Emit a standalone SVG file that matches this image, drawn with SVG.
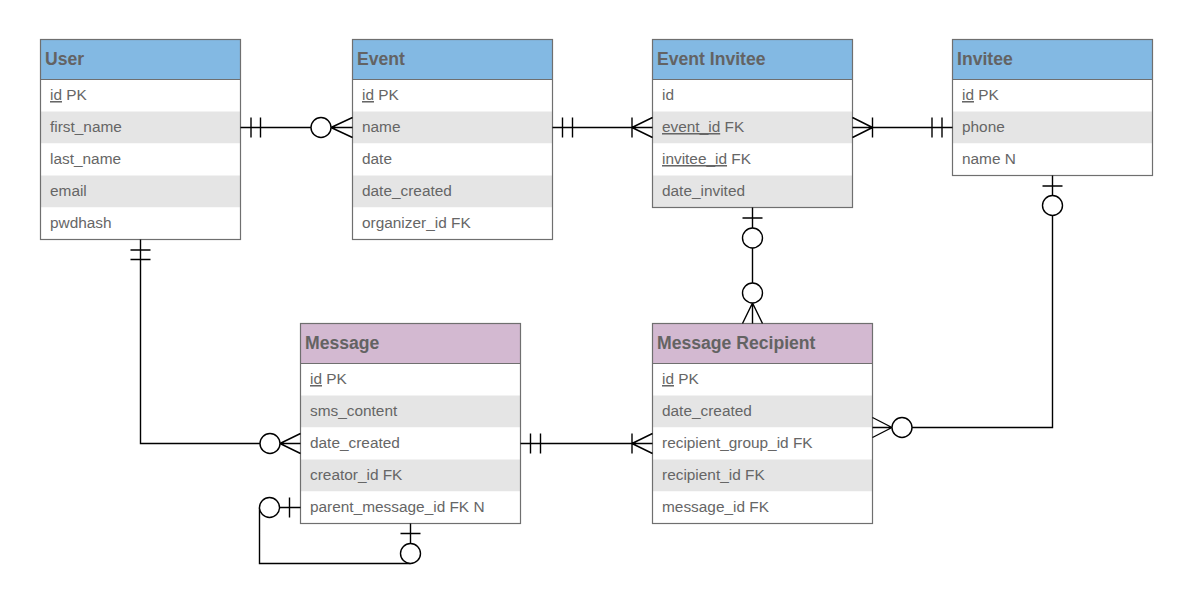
<svg xmlns="http://www.w3.org/2000/svg" width="1192" height="605" viewBox="0 0 1192 605">
<style>
.hb{fill:#83b9e3}
.hp{fill:#d3b9d1}
.rw{fill:#ffffff}
.rg{fill:#e5e5e5}
.bd{fill:none;stroke:#6f6f6f;stroke-width:1.2}
.ht{font-family:"Liberation Sans",Arial,sans-serif;font-size:17.6px;font-weight:bold;fill:#636363}
.tx{font-family:"Liberation Sans",Arial,sans-serif;font-size:15.4px;fill:#666666}
.u{text-decoration:underline}
.c{fill:none;stroke:#000;stroke-width:1.4}
.cc{fill:#fff;stroke:#000;stroke-width:1.4}
</style>
<rect width="1192" height="605" fill="#ffffff"/>

<g id="user">
<rect class="hb" x="40.5" y="39.5" width="200" height="40"/>
<rect class="rw" x="40.5" y="79.5" width="200" height="32"/>
<rect class="rg" x="40.5" y="111.5" width="200" height="32"/>
<rect class="rw" x="40.5" y="143.5" width="200" height="32"/>
<rect class="rg" x="40.5" y="175.5" width="200" height="32"/>
<rect class="rw" x="40.5" y="207.5" width="200" height="32"/>
<rect class="bd" x="40.5" y="39.5" width="200" height="200"/>
<line class="bd" x1="40.5" y1="79.5" x2="240.5" y2="79.5"/>
<text class="ht" x="45" y="65">User</text>
<text class="tx" x="50" y="100"><tspan class="u">id</tspan> PK</text>
<text class="tx" x="50" y="132">first_name</text>
<text class="tx" x="50" y="164">last_name</text>
<text class="tx" x="50" y="196">email</text>
<text class="tx" x="50" y="228">pwdhash</text>
</g>

<g id="event">
<rect class="hb" x="352.5" y="39.5" width="200" height="40"/>
<rect class="rw" x="352.5" y="79.5" width="200" height="32"/>
<rect class="rg" x="352.5" y="111.5" width="200" height="32"/>
<rect class="rw" x="352.5" y="143.5" width="200" height="32"/>
<rect class="rg" x="352.5" y="175.5" width="200" height="32"/>
<rect class="rw" x="352.5" y="207.5" width="200" height="32"/>
<rect class="bd" x="352.5" y="39.5" width="200" height="200"/>
<line class="bd" x1="352.5" y1="79.5" x2="552.5" y2="79.5"/>
<text class="ht" x="357" y="65">Event</text>
<text class="tx" x="362" y="100"><tspan class="u">id</tspan> PK</text>
<text class="tx" x="362" y="132">name</text>
<text class="tx" x="362" y="164">date</text>
<text class="tx" x="362" y="196">date_created</text>
<text class="tx" x="362" y="228">organizer_id FK</text>
</g>

<g id="event-invitee">
<rect class="hb" x="652.5" y="39.5" width="200" height="40"/>
<rect class="rw" x="652.5" y="79.5" width="200" height="32"/>
<rect class="rg" x="652.5" y="111.5" width="200" height="32"/>
<rect class="rw" x="652.5" y="143.5" width="200" height="32"/>
<rect class="rg" x="652.5" y="175.5" width="200" height="32"/>
<rect class="bd" x="652.5" y="39.5" width="200" height="168"/>
<line class="bd" x1="652.5" y1="79.5" x2="852.5" y2="79.5"/>
<text class="ht" x="657" y="65">Event Invitee</text>
<text class="tx" x="662" y="100">id</text>
<text class="tx" x="662" y="132"><tspan class="u">event_id</tspan> FK</text>
<text class="tx" x="662" y="164"><tspan class="u">invitee_id</tspan> FK</text>
<text class="tx" x="662" y="196">date_invited</text>
</g>

<g id="invitee">
<rect class="hb" x="952.5" y="39.5" width="200" height="40"/>
<rect class="rw" x="952.5" y="79.5" width="200" height="32"/>
<rect class="rg" x="952.5" y="111.5" width="200" height="32"/>
<rect class="rw" x="952.5" y="143.5" width="200" height="32"/>
<rect class="bd" x="952.5" y="39.5" width="200" height="136"/>
<line class="bd" x1="952.5" y1="79.5" x2="1152.5" y2="79.5"/>
<text class="ht" x="957" y="65">Invitee</text>
<text class="tx" x="962" y="100"><tspan class="u">id</tspan> PK</text>
<text class="tx" x="962" y="132">phone</text>
<text class="tx" x="962" y="164">name N</text>
</g>

<g id="message">
<rect class="hp" x="300.5" y="323.5" width="220" height="40"/>
<rect class="rw" x="300.5" y="363.5" width="220" height="32"/>
<rect class="rg" x="300.5" y="395.5" width="220" height="32"/>
<rect class="rw" x="300.5" y="427.5" width="220" height="32"/>
<rect class="rg" x="300.5" y="459.5" width="220" height="32"/>
<rect class="rw" x="300.5" y="491.5" width="220" height="32"/>
<rect class="bd" x="300.5" y="323.5" width="220" height="200"/>
<line class="bd" x1="300.5" y1="363.5" x2="520.5" y2="363.5"/>
<text class="ht" x="305" y="349">Message</text>
<text class="tx" x="310" y="384"><tspan class="u">id</tspan> PK</text>
<text class="tx" x="310" y="416">sms_content</text>
<text class="tx" x="310" y="448">date_created</text>
<text class="tx" x="310" y="480">creator_id FK</text>
<text class="tx" x="310" y="512">parent_message_id FK N</text>
</g>

<g id="message-recipient">
<rect class="hp" x="652.5" y="323.5" width="220" height="40"/>
<rect class="rw" x="652.5" y="363.5" width="220" height="32"/>
<rect class="rg" x="652.5" y="395.5" width="220" height="32"/>
<rect class="rw" x="652.5" y="427.5" width="220" height="32"/>
<rect class="rg" x="652.5" y="459.5" width="220" height="32"/>
<rect class="rw" x="652.5" y="491.5" width="220" height="32"/>
<rect class="bd" x="652.5" y="323.5" width="220" height="200"/>
<line class="bd" x1="652.5" y1="363.5" x2="872.5" y2="363.5"/>
<text class="ht" x="657" y="349">Message Recipient</text>
<text class="tx" x="662" y="384"><tspan class="u">id</tspan> PK</text>
<text class="tx" x="662" y="416">date_created</text>
<text class="tx" x="662" y="448">recipient_group_id FK</text>
<text class="tx" x="662" y="480">recipient_id FK</text>
<text class="tx" x="662" y="512">message_id FK</text>
</g>

<g id="connectors">
<!-- User - Event -->
<path class="c" d="M240.5,127.5 H352.5 M251,117.5 V137.5 M260.5,117.5 V137.5 M331,127.5 L352.5,117.5 M331,127.5 L352.5,137.5"/>
<circle class="cc" cx="321" cy="127.5" r="10"/>
<!-- Event - Event Invitee -->
<path class="c" d="M552.5,127.5 H652.5 M562.5,117.5 V137.5 M572.5,117.5 V137.5 M632,117.5 V137.5 M632,127.5 L652.5,117.5 M632,127.5 L652.5,137.5"/>
<!-- Event Invitee - Invitee -->
<path class="c" d="M852.5,127.5 H952.5 M872.5,117.5 V137.5 M852.5,117.5 L872.5,127.5 M852.5,137.5 L872.5,127.5 M932,117.5 V137.5 M942,117.5 V137.5"/>
<!-- Event Invitee - Message Recipient -->
<path class="c" d="M752.5,207.5 V323.5 M742.5,218 H762.5 M752.5,303 L742.5,323.5 M752.5,303 L762.5,323.5"/>
<circle class="cc" cx="752.5" cy="238" r="10"/>
<circle class="cc" cx="752.5" cy="293" r="10"/>
<!-- Invitee - Message Recipient -->
<path class="c" d="M1052.5,175.5 V427.5 H872.5 M1042.5,186 H1062.5 M892,427.5 L872.5,417.5 M892,427.5 L872.5,437.5"/>
<circle class="cc" cx="1052.5" cy="205.5" r="10"/>
<circle class="cc" cx="902" cy="427.5" r="10"/>
<!-- User - Message -->
<path class="c" d="M140.5,239.5 V443.5 H300.5 M130.5,250 H150.5 M130.5,259.5 H150.5 M280,443.5 L300.5,433.5 M280,443.5 L300.5,453.5"/>
<circle class="cc" cx="270" cy="443.5" r="10"/>
<!-- Message - Message Recipient -->
<path class="c" d="M520.5,443.5 H652.5 M530.5,433.5 V453.5 M540.5,433.5 V453.5 M632,433.5 V453.5 M632,443.5 L652.5,433.5 M632,443.5 L652.5,453.5"/>
<!-- Message self reference -->
<path class="c" d="M300.5,507.5 H279.5 M289.5,497.5 V517.5 M259.5,507.5 V563.5 H410.5 M410.5,523.5 V543.5 M400.5,533.5 H420.5"/>
<circle class="cc" cx="269.5" cy="507.5" r="10"/>
<circle class="cc" cx="410.5" cy="553.5" r="10"/>
</g>
</svg>
